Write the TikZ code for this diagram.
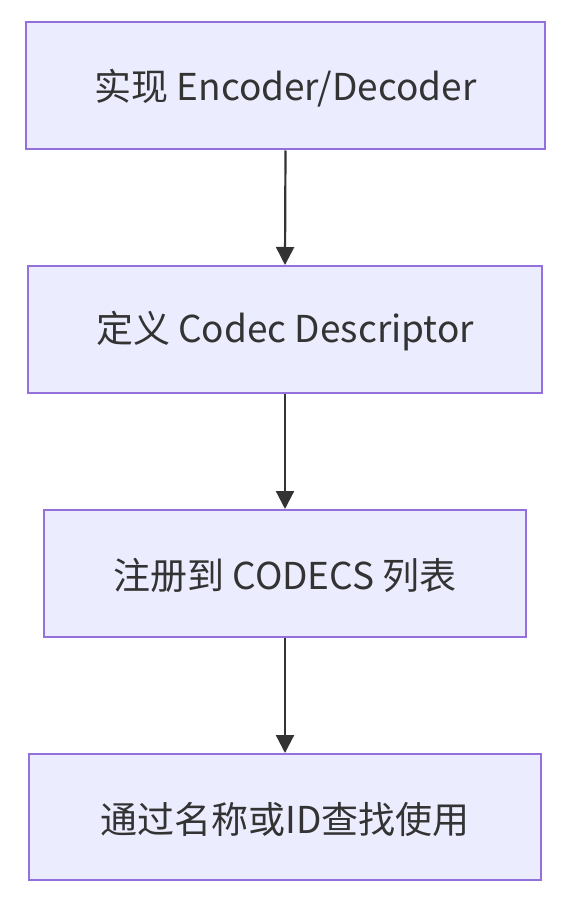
\documentclass[tikz,border=0pt]{standalone}
\usepackage{fontspec}
\setmainfont{Noto Sans CJK SC}
\usetikzlibrary{arrows.meta}
\definecolor{boxfill}{HTML}{ECECFF}
\definecolor{boxline}{HTML}{9370DB}
\definecolor{ink}{HTML}{333333}
\begin{document}
\begin{tikzpicture}[x=1pt,y=-1pt,
  flowbox/.style={draw=boxline,fill=boxfill,line width=2pt,
    inner sep=0pt},
  flowtext/.style={text=ink,font=\fontsize{37}{44}\selectfont,inner sep=0pt,anchor=center},
  flowarrow/.style={draw=ink,line width=2.2pt,-{Triangle[length=18pt,width=18pt]}}]
\useasboundingbox (0,0) rectangle (588,904);
\node[flowbox,minimum width=519pt,minimum height=127pt] (a) at (285.5,86) {};
\node[flowbox,minimum width=514pt,minimum height=127pt] (b) at (285,329.5) {};
\node[flowbox,minimum width=482pt,minimum height=127pt] (c) at (285,573.5) {};
\node[flowbox,minimum width=512pt,minimum height=126pt] (d) at (285,817) {};
\node[flowtext] (ta) at ([yshift=-2pt]a.center) {实现 Encoder/Decoder};
\node[flowtext] (tb) at ([yshift=-2pt]b.center) {定义 Codec Descriptor};
\node[flowtext] (tc) at ([yshift=-2pt]c.center) {注册到 CODECS 列表};
\node[flowtext] (td) at ([yshift=-2pt]d.center) {通过名称或ID查找使用};
\draw[flowarrow] (a.south) -- (b.north);
\draw[flowarrow] (b.south) -- (c.north);
\draw[flowarrow] (c.south) -- (d.north);
\end{tikzpicture}
\end{document}
